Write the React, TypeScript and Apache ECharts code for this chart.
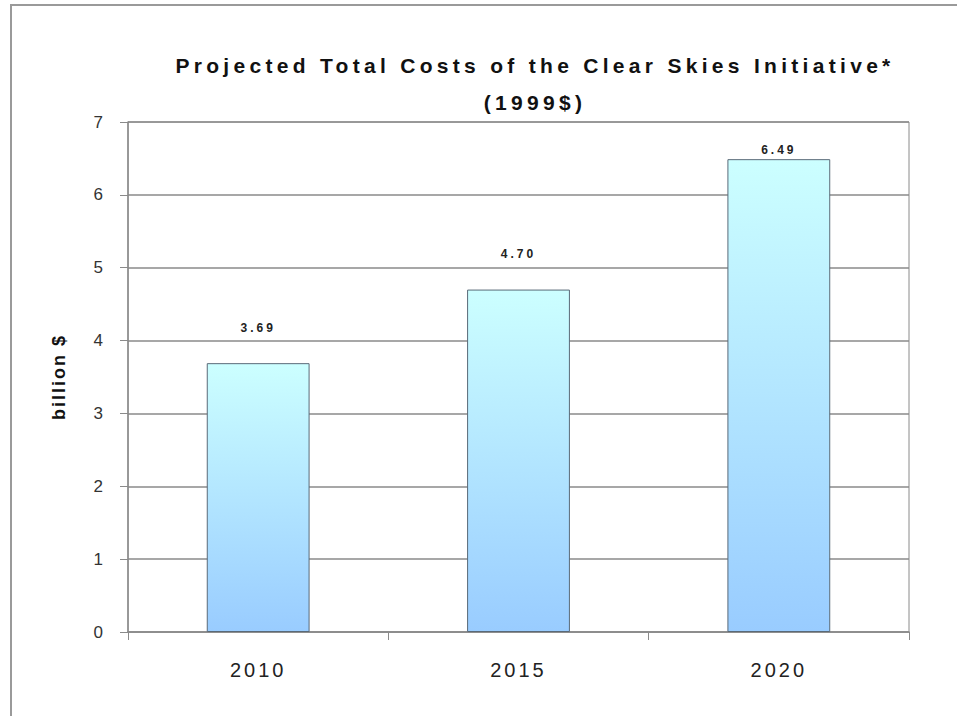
import React, { useEffect, useRef } from "react";
import * as echarts from "echarts";

const categories = ["2010", "2015", "2020"];
const values = [3.69, 4.7, 6.49];
const labelDistances = [29, 30, 3];
const yTicks = [0, 1, 2, 3, 4, 5, 6, 7];

export default function App() {
  const ref = useRef<HTMLDivElement>(null);
  useEffect(() => {
    if (!ref.current) return;
    const chart = echarts.init(ref.current, undefined, { renderer: "svg" });
    const gray = "#8a8a8a";
    const font = "Liberation Sans, Arial, sans-serif";
    chart.setOption({
      animation: false,
      backgroundColor: "#ffffff",
      title: {
        text: "Projected Total Costs of the Clear Skies Initiative*\n(1999$)",
        left: 530,
        top: 42,
        textAlign: "center",
        textStyle: {
          fontFamily: font,
          fontWeight: "bold",
          fontSize: 21,
          lineHeight: 37,
          color: "#111",
        },
      },
      graphic: [
        {
          type: "polyline",
          shape: { points: [[11, 716], [11, 5], [957, 5]] },
          style: { stroke: "#9a9a9a", lineWidth: 2, fill: "none" },
          silent: true,
        },
      ],
      grid: {
        left: 128,
        right: 48,
        top: 122,
        bottom: 84,
        show: true,
        borderColor: gray,
        borderWidth: 1,
      },
      xAxis: {
        type: "category",
        data: categories,
        axisLine: { lineStyle: { color: gray, width: 1.5 } },
        axisTick: { show: true, length: 8, lineStyle: { color: gray } },
        axisLabel: {
          margin: 28,
          fontSize: 20,
          color: "#222",
          fontFamily: font,
        },
      },
      yAxis: {
        type: "value",
        min: 0,
        max: 7,
        interval: 1,
        name: "billion $",
        nameLocation: "middle",
        nameGap: 60,
        nameTextStyle: {
          fontFamily: font,
          fontWeight: "bold",
          fontSize: 18,
          color: "#111",
        },
        axisLine: { show: true, lineStyle: { color: gray, width: 1.5 } },
        axisTick: { show: true, length: 8, lineStyle: { color: gray } },
        axisLabel: {
          margin: 25,
          fontSize: 17,
          color: "#333",
          fontFamily: font,
          formatter: (v: number) => (yTicks.includes(v) ? String(v) : ""),
        },
        splitLine: { show: true, lineStyle: { color: gray, width: 1.5 } },
      },
      series: [
        {
          type: "bar",
          barWidth: "39.5%",
          data: values.map((v, i) => ({
            value: v,
            label: { distance: labelDistances[i] },
          })),
          itemStyle: {
            color: new echarts.graphic.LinearGradient(0, 0, 0, 1, [
              { offset: 0, color: "#ccffff" },
              { offset: 1, color: "#99ccff" },
            ]),
            borderColor: "#5a6a78",
            borderWidth: 1,
          },
          label: {
            show: true,
            position: "top",
            formatter: (p: any) => p.value.toFixed(2),
            fontFamily: font,
            fontWeight: "bold",
            fontSize: 12,
            color: "#222",
          },
        },
      ],
    });
    return () => chart.dispose();
  }, []);
  return (
    <>
      <style>{`svg text[style*="21px"] { letter-spacing: 4.3px; } svg text[style*="20px"] { letter-spacing: 3px; } svg text[style*="18px"] { letter-spacing: 2px; } svg text[style*="12px"] { letter-spacing: 3px; }`}</style>
      <div
        ref={ref}
        style={{ position: "fixed", left: 0, top: 0, width: 957, height: 716 }}
      />
    </>
  );
}
